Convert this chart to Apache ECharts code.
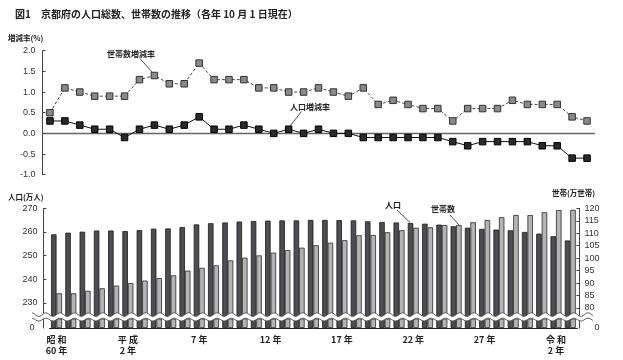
<!DOCTYPE html>
<html><head><meta charset="utf-8">
<script src="https://cdn.jsdelivr.net/npm/echarts@6/dist/echarts.min.js"></script>
<style>html,body{margin:0;padding:0;background:#fff}#c{width:623px;height:360px}</style>
</head><body><div id="c"></div>
<script>
// ---- data ----
const years = ['1985','1986','1987','1988','1989','1990','1991','1992','1993','1994','1995','1996','1997','1998','1999','2000','2001','2002','2003','2004','2005','2006','2007','2008','2009','2010','2011','2012','2013','2014','2015','2016','2017','2018','2019','2020','2021'];
const xTickLabels = ['昭 和\n60 年','','','','','平 成\n2 年','','','','','7 年','','','','','12 年','','','','','17 年','','','','','22 年','','','','','27 年','','','','','令 和\n2 年',''];
const householdRate = [0.5,1.1,1.0,0.9,0.9,0.9,1.3,1.4,1.2,1.2,1.7,1.3,1.3,1.3,1.1,1.1,1.0,1.0,1.1,1.0,0.9,1.1,0.7,0.8,0.7,0.6,0.6,0.3,0.6,0.6,0.6,0.8,0.7,0.7,0.7,0.4,0.3];
const populationRate = [0.3,0.3,0.2,0.1,0.1,-0.1,0.1,0.2,0.1,0.2,0.4,0.1,0.1,0.2,0.1,0.0,0.1,0.0,0.1,0.0,0.0,-0.1,-0.1,-0.1,-0.1,-0.1,-0.1,-0.2,-0.3,-0.2,-0.2,-0.2,-0.2,-0.3,-0.3,-0.6,-0.6];
const population = [259.0,259.7,260.1,260.6,260.6,260.4,260.8,261.4,261.5,262.1,263.2,263.7,264.0,264.4,264.6,264.8,264.9,264.9,265.1,265.1,265.0,264.9,264.5,264.2,264.0,263.8,263.5,263.1,262.4,261.8,261.3,261.0,260.7,260.0,259.3,258.2,256.4];
const households = [85.9,85.9,86.9,87.9,89.0,90.0,91.0,92.0,93.1,95.0,96.1,97.1,99.1,100.2,101.1,102.2,103.2,104.2,105.2,106.2,107.2,109.2,109.3,110.4,111.2,112.2,112.4,113.3,113.3,114.4,115.3,116.4,117.3,117.3,118.4,119.3,119.4];
const rateTicks = [-1.0,-0.5,0.0,0.5,1.0,1.5,2.0];
const popTicks = [230,240,250,260,270];
const hhTicks = [80,85,90,95,100,105,110,115,120];

// ---- layout ----
const NUM = '"Liberation Sans", Arial, sans-serif';
const CJK = '"Noto Sans CJK JP", sans-serif';
const barTop = 208.3, barBottom = 317;
const popMin = 270 - (barBottom - barTop) / 2.367;
const hhMin = 120 - (barBottom - barTop) / 2.4925;

const chart = echarts.init(document.getElementById('c'));

// break decoration (wavy band)
const w1 = [], w2 = [];
for (let x = 32; x <= 593; x += 1) {
  const ph = (x - 49.4) / 14.27 * 2 * Math.PI;
  w1.push([x, 314.6 + 1.8 * Math.sin(ph)]);
  w2.push([x, 319.6 + 1.4 * Math.sin(ph)]);
}
const band = w1.concat(w2.slice().reverse());

const barStyleDark = {color:'#4d4d52', borderColor:'#1a1a1a', borderWidth:0.8};
const barStyleLight = {color:'#b4b4b4', borderColor:'#2a2a2a', borderWidth:0.8};

function txt(text, x, y, size, extra) {
  return Object.assign({type:'text', z:120, style:{text, x, y, fill:'#222', fontSize:size, fontFamily:CJK, fontWeight:'bold', textVerticalAlign:'middle'}}, extra || {});
}
function ln(x1,y1,x2,y2){
  return {type:'line', z:120, shape:{x1,y1,x2,y2}, style:{stroke:'#222', lineWidth:0.8}};
}

const option = {
  animation:false,
  backgroundColor:'#fff',
  textStyle:{fontFamily:NUM},
  grid:[
    {left:42.5, width:552, top:50.7, height:124},
    {left:49.4, width:528, top:barTop, height:barBottom-barTop},
    {left:49.4, width:528, top:319, height:9}
  ],
  xAxis:[
    {gridIndex:0, type:'category', data:years, boundaryGap:true,
     axisLine:{onZero:true, lineStyle:{color:'#666', width:1.3}},
     axisTick:{inside:true, length:3, lineStyle:{color:'#666'}},
     axisLabel:{show:false}, splitLine:{show:false}},
    {gridIndex:1, type:'category', data:years, show:false},
    {gridIndex:2, type:'category', data:years,
     axisLine:{lineStyle:{color:'#222', width:1}}, axisTick:{show:false},
     axisLabel:{interval:0, formatter:(v,i)=>xTickLabels[i], fontSize:9, fontFamily:CJK, fontWeight:'bold', color:'#222', lineHeight:11, margin:6}}
  ],
  yAxis:[
    {gridIndex:0, type:'value', min:-1, max:2, interval:0.5,
     axisLine:{show:true, lineStyle:{color:'#444'}},
     axisTick:{show:true, inside:true, length:3, lineStyle:{color:'#444'}},
     axisLabel:{formatter:v=>v.toFixed(1), fontSize:9, color:'#333', margin:7},
     splitLine:{show:false}},
    {gridIndex:1, type:'value', min:popMin, max:270, position:'left', offset:6,
     axisLine:{show:true, lineStyle:{color:'#444'}},
     axisTick:{show:true, inside:true, length:3, customValues:popTicks, lineStyle:{color:'#444'}},
     axisLabel:{customValues:popTicks, fontSize:9, color:'#333', margin:6},
     splitLine:{show:false}},
    {gridIndex:1, type:'value', min:hhMin, max:120, position:'right', offset:2,
     axisLine:{show:true, lineStyle:{color:'#444'}},
     axisTick:{show:true, inside:true, length:3, customValues:hhTicks, lineStyle:{color:'#444'}},
     axisLabel:{customValues:hhTicks, fontSize:9, color:'#333', margin:5},
     splitLine:{show:false}},
    {gridIndex:2, type:'value', min:0, max:1, position:'left', offset:6,
     axisLine:{show:true, lineStyle:{color:'#444'}}, axisTick:{show:false},
     axisLabel:{customValues:[0], fontSize:9, color:'#333', margin:9},
     splitLine:{show:false}},
    {gridIndex:2, type:'value', min:0, max:1, position:'right', offset:2,
     axisLine:{show:true, lineStyle:{color:'#444'}}, axisTick:{show:false},
     axisLabel:{customValues:[0], fontSize:9, color:'#333', margin:15},
     splitLine:{show:false}}
  ],
  series:[
    {name:'世帯数増減率', type:'line', xAxisIndex:0, yAxisIndex:0, data:householdRate,
     symbol:'rect', symbolSize:6.5, showAllSymbol:true,
     lineStyle:{color:'#333', width:0.9, type:[3,2]},
     itemStyle:{color:'#8a8a8a', borderColor:'#333', borderWidth:1}, z:3},
    {name:'人口増減率', type:'line', xAxisIndex:0, yAxisIndex:0, data:populationRate,
     symbol:'rect', symbolSize:6.5, showAllSymbol:true,
     lineStyle:{color:'#111', width:1},
     itemStyle:{color:'#2a2a2a', borderColor:'#000', borderWidth:1}, z:4},
    {name:'人口', type:'bar', xAxisIndex:1, yAxisIndex:1, data:population, barWidth:5.5, barGap:'0%', clip:true, itemStyle:barStyleDark},
    {name:'世帯数', type:'bar', xAxisIndex:1, yAxisIndex:2, data:households, barWidth:5.5, barGap:'0%', clip:true, itemStyle:barStyleLight},
    {name:'人口', type:'bar', xAxisIndex:2, yAxisIndex:3, data:population, barWidth:5.5, barGap:'0%', clip:true, itemStyle:barStyleDark},
    {name:'世帯数', type:'bar', xAxisIndex:2, yAxisIndex:4, data:households, barWidth:5.5, barGap:'0%', clip:true, itemStyle:barStyleLight}
  ],
  graphic:[
    {type:'polygon', z:110, shape:{points:band}, style:{fill:'#fff', stroke:null}},
    {type:'polyline', z:111, shape:{points:w1}, style:{stroke:'#555', lineWidth:0.9, fill:null}},
    {type:'polyline', z:111, shape:{points:w2}, style:{stroke:'#555', lineWidth:0.9, fill:null}},
    txt('図1　京都府の人口総数、世帯数の推移（各年 10 月 1 日現在）', 15, 14, 10),
    txt('増減率(%)', 8, 38.5, 7.5),
    txt('人口(万人)', 8, 197, 7.5),
    txt('世帯(万世帯)', 552, 193.5, 7.5),
    txt('世帯数増減率', 107, 54, 8),
    ln(140,58.5,152,72),
    txt('人口増減率', 290, 107, 8),
    ln(301.5,111.5,290,126),
    txt('人口', 385, 204.5, 8),
    ln(397,210,410,222.5),
    txt('世帯数', 431, 209, 8),
    ln(450,215,459,225)
  ]
};
chart.setOption(option);
</script>
</body></html>
